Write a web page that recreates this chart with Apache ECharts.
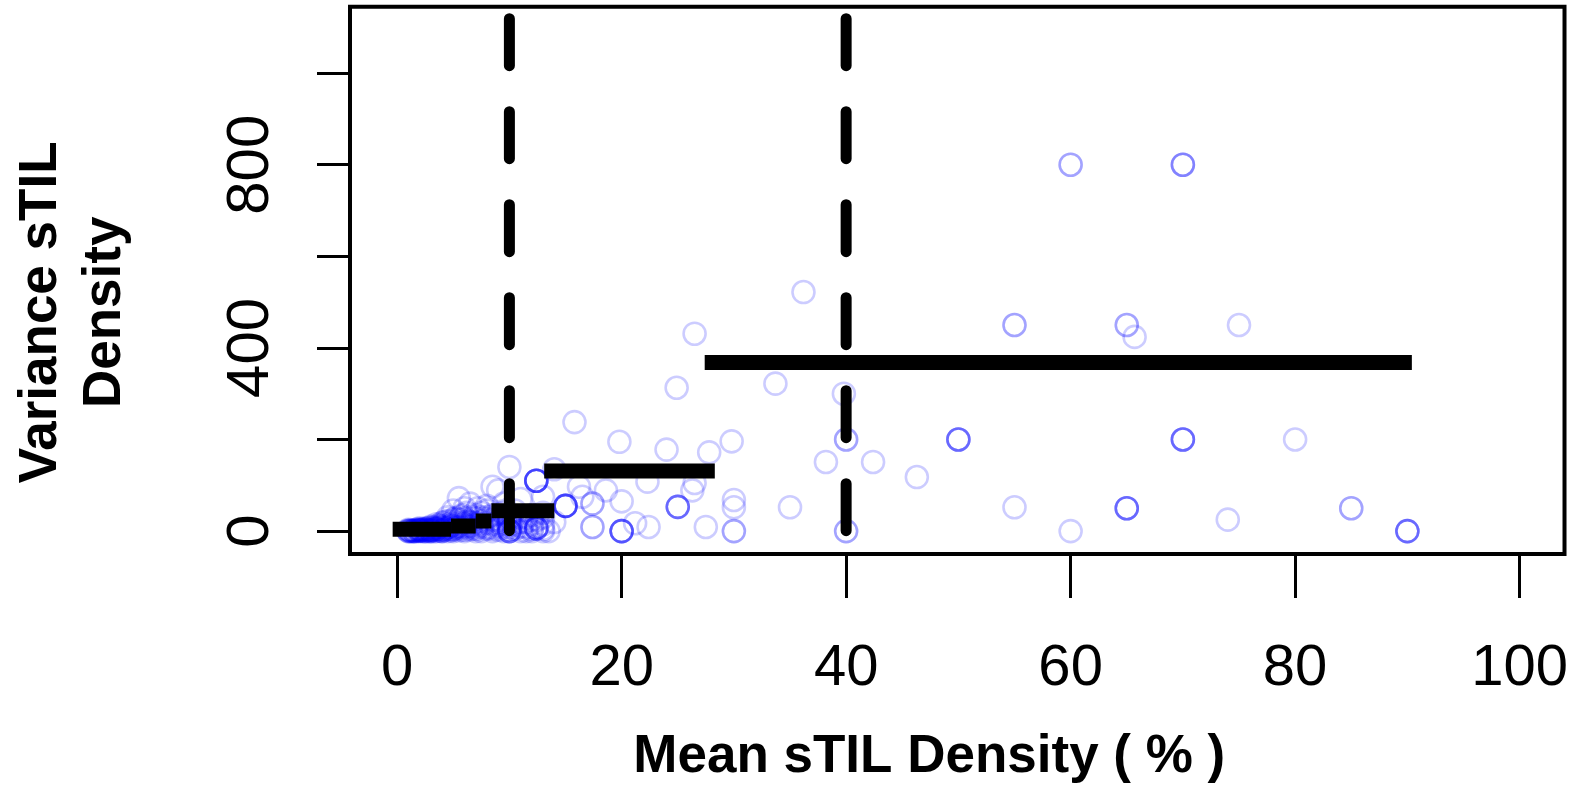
<!DOCTYPE html>
<html>
<head>
<meta charset="utf-8">
<script src="https://cdn.jsdelivr.net/npm/echarts@6/dist/echarts.min.js"></script>
<style>
html,body{margin:0;padding:0;background:#fff;}
#chart{width:1571px;height:789px;}
</style>
</head>
<body>
<div id="chart"></div>
<script>
// ---- data ----
const xTicks = [0, 20, 40, 60, 80, 100];
const yTicks = [0, 200, 400, 600, 800, 1000];
const yTickLabels = [0, 400, 800];
const cutoffs = [10, 40];

// mean sTIL density (x) and variance (y) of each case
const meanDensity = [
  1, 1.2, 1.5, 1.8, 2, 2, 2.2, 2.5, 2.5, 2.8, 3, 3, 3.3, 3.5, 3.5, 3.8, 4, 4, 4.2, 4.5, 4.5, 4.8,
  5, 5, 5, 5.3, 5.5, 5.5, 5.8, 6, 6, 6.3, 6.5, 6.5, 7, 7, 7.5, 7.5, 8, 8, 8.5, 8.5, 9, 9, 9, 9.5,
  1, 1, 1.3, 1.5, 1.7, 2, 2, 2.3, 2.5, 2.7, 3, 3, 3.2, 3.5, 3.5, 3.7, 4, 4, 4.3, 4.5, 4.5, 4.7,
  5, 5, 5.2, 5.5, 5.5, 5.7, 6, 6, 6, 6.2, 6.5, 6.5, 6.8, 7, 7, 7.2, 7.5, 7.5, 8, 8, 8, 8.5, 8.5,
  9, 9, 9.5, 9.5, 10, 10, 10, 11, 11, 11.5, 12, 12, 12.5, 13, 13, 13.5,
  1.5, 1.5, 2, 2, 2.5, 2.5, 3, 3, 3, 3.5, 3.5, 4, 4, 4, 4.5, 4.5, 5, 5, 5, 5.5, 5.5, 6, 6, 6,
  6.5, 6.5, 7, 7, 7, 7.5, 7.5, 8, 8, 8.5, 8.5, 9, 9, 9.5, 9.5, 10, 10, 10.5, 10.5, 11, 11.5, 11.5,
  12, 12, 12.5, 13, 13, 1, 1.2, 1.8, 2.2, 2.8, 3.3, 3.8, 4.2, 4.8,
  10, 10, 10, 10, 10, 10, 10.5, 11, 11, 11.5, 12, 12.4, 12.4, 12.4, 12.4, 12.4, 12.4, 12.4, 12.4, 12.4, 12.4,
  13, 13, 14, 14, 15, 15, 15, 15, 15, 15, 15.8, 16.2, 16.5, 17.4, 17.4, 17.4, 17.4, 18.6, 19.8,
  20, 20, 20, 20, 20, 20, 21.2, 22.3, 22.4,
  24, 24.9, 25, 25, 25, 25, 26.3, 26.5, 26.5, 27.5, 27.8, 29.8, 30, 30, 30, 30, 33.7, 35, 36.2,
  38.2, 39.8, 40, 40, 40, 40, 42.4, 46.3, 50, 50, 50, 50, 55, 55, 55, 60, 60, 60,
  65, 65, 65, 65, 65, 65, 65.7, 70, 70, 70, 70, 70, 70, 70, 74, 75, 80, 85, 85, 90, 90, 90, 90
];
const varDensity = [
  0, 1, 0.5, 2, 0, 4, 1, 3, 0, 6, 2, 0, 8, 4, 15, 1, 10, 0, 20, 5, 30, 12,
  0, 25, 45, 8, 72, 18, 35, 3, 50, 22, 10, 60, 0, 28, 40, 15, 5, 55, 97, 25, 89, 10, 38, 60,
  0, 3, 0, 2, 0, 1, 6, 0, 5, 2, 0, 10, 3, 0, 8, 12, 2, 18, 6, 0, 22, 10,
  4, 15, 28, 2, 12, 32, 0, 8, 20, 40, 4, 18, 30, 6, 12, 50, 0, 22, 8, 30, 45, 0, 15,
  3, 25, 8, 40, 5, 15, 30, 0, 20, 8, 15, 35, 25, 5, 15, 0,
  0, 0, 2, 2, 0, 5, 3, 3, 8, 5, 5, 0, 6, 12, 8, 15, 5, 10, 20, 8, 25, 10, 15, 28,
  12, 20, 5, 18, 35, 10, 30, 18, 25, 6, 35, 15, 20, 0, 15, 10, 25, 5, 15, 30, 0, 20,
  5, 25, 10, 0, 30, 1, 0, 4, 3, 0, 0, 6, 3, 2,
  0, 0, 0, 0, 20, 140, 45, 10, 70, 30, 0, 6, 6, 6, 6, 110, 110, 110, 110, 110, 110,
  40, 75, 135, 20, 55, 55, 55, 55, 55, 55, 238, 97, 75, 60, 60, 9, 9, 89, 195,
  0, 0, 0, 0, 0, 65, 17, 108, 9,
  178, 313, 53, 53, 53, 53, 89, 431, 105, 9, 172, 196, 0, 0, 52, 68, 322, 52, 522,
  151, 300, 200, 200, 0, 0, 151, 118, 200, 200, 200, 200, 450, 450, 52, 800, 800, 0,
  450, 450, 50, 50, 50, 50, 424, 800, 800, 800, 200, 200, 200, 200, 25, 450, 200, 50, 50, 0, 0, 0, 0
];

// group means drawn as thick horizontal segments
const segStart = [-0.4, 4.8, 7.0, 8.4, 13.1, 27.4];
const segEnd   = [4.8, 7.0, 8.4, 14.0, 28.3, 90.4];
const segLevel = [4, 11, 22, 44.7, 131, 368];

// ---- chart ----
const X_MIN = -4.2, X_MAX = 104, Y_MIN = -50, Y_MAX = 1145;
const font = "'Liberation Sans', Arial, Helvetica, sans-serif";

const points = meanDensity.map((x, i) => [x, varDensity[i]]);

const series = [{
  type: 'scatter',
  data: points,
  symbol: 'circle',
  symbolSize: 22,
  z: 2,
  silent: true,
  itemStyle: { color: 'rgba(0,0,0,0)', borderColor: 'rgba(0,0,255,0.25)', borderWidth: 2.6 }
}];

segStart.forEach((s, i) => {
  series.push({
    type: 'line',
    data: [[s, segLevel[i]], [segEnd[i], segLevel[i]]],
    showSymbol: false, symbol: 'none', silent: true, z: 4,
    lineStyle: { color: '#000', width: 15, cap: 'butt' }
  });
});

cutoffs.forEach(c => {
  series.push({
    type: 'line',
    data: [[c, Y_MAX], [c, Y_MIN]],
    showSymbol: false, symbol: 'none', silent: true, z: 5,
    lineStyle: { color: '#000', width: 11, type: [47, 46], dashOffset: 81, cap: 'round' }
  });
});

const chart = echarts.init(document.getElementById('chart'), null, { renderer: 'canvas' });
chart.setOption({
  animation: false,
  backgroundColor: '#fff',
  grid: {
    left: 350, right: 3.3, top: 6.7, bottom: 235,
    show: true, borderColor: '#000', borderWidth: 4, backgroundColor: 'transparent', z: 6
  },
  xAxis: {
    type: 'value', min: X_MIN, max: X_MAX,
    axisLine: { show: false, onZero: false },
    splitLine: { show: false },
    axisTick: { show: true, length: 44, lineStyle: { color: '#000', width: 3 }, customValues: xTicks },
    axisLabel: { customValues: xTicks, fontSize: 58, margin: 86, color: '#000', fontFamily: font },
    name: 'Mean sTIL Density ( % )',
    nameLocation: 'middle', nameGap: 177,
    nameTextStyle: { fontSize: 53, fontWeight: 'bold', color: '#000', fontFamily: font, padding: [0, 56, 0, 0] }
  },
  yAxis: {
    type: 'value', min: Y_MIN, max: Y_MAX,
    axisLine: { show: false, onZero: false },
    splitLine: { show: false },
    axisTick: { show: true, length: 33, lineStyle: { color: '#000', width: 3 }, customValues: yTicks },
    axisLabel: { customValues: yTickLabels, rotate: 90, fontSize: 60, margin: 69, color: '#000', fontFamily: font },
    name: 'Variance sTIL\nDensity',
    nameLocation: 'middle', nameGap: 213, nameRotate: 90,
    nameTextStyle: { fontSize: 53, lineHeight: 64, fontWeight: 'bold', color: '#000', fontFamily: font, align: 'center', padding: [0, 64, 0, 0] }
  },
  series: series
});
</script>
</body>
</html>
